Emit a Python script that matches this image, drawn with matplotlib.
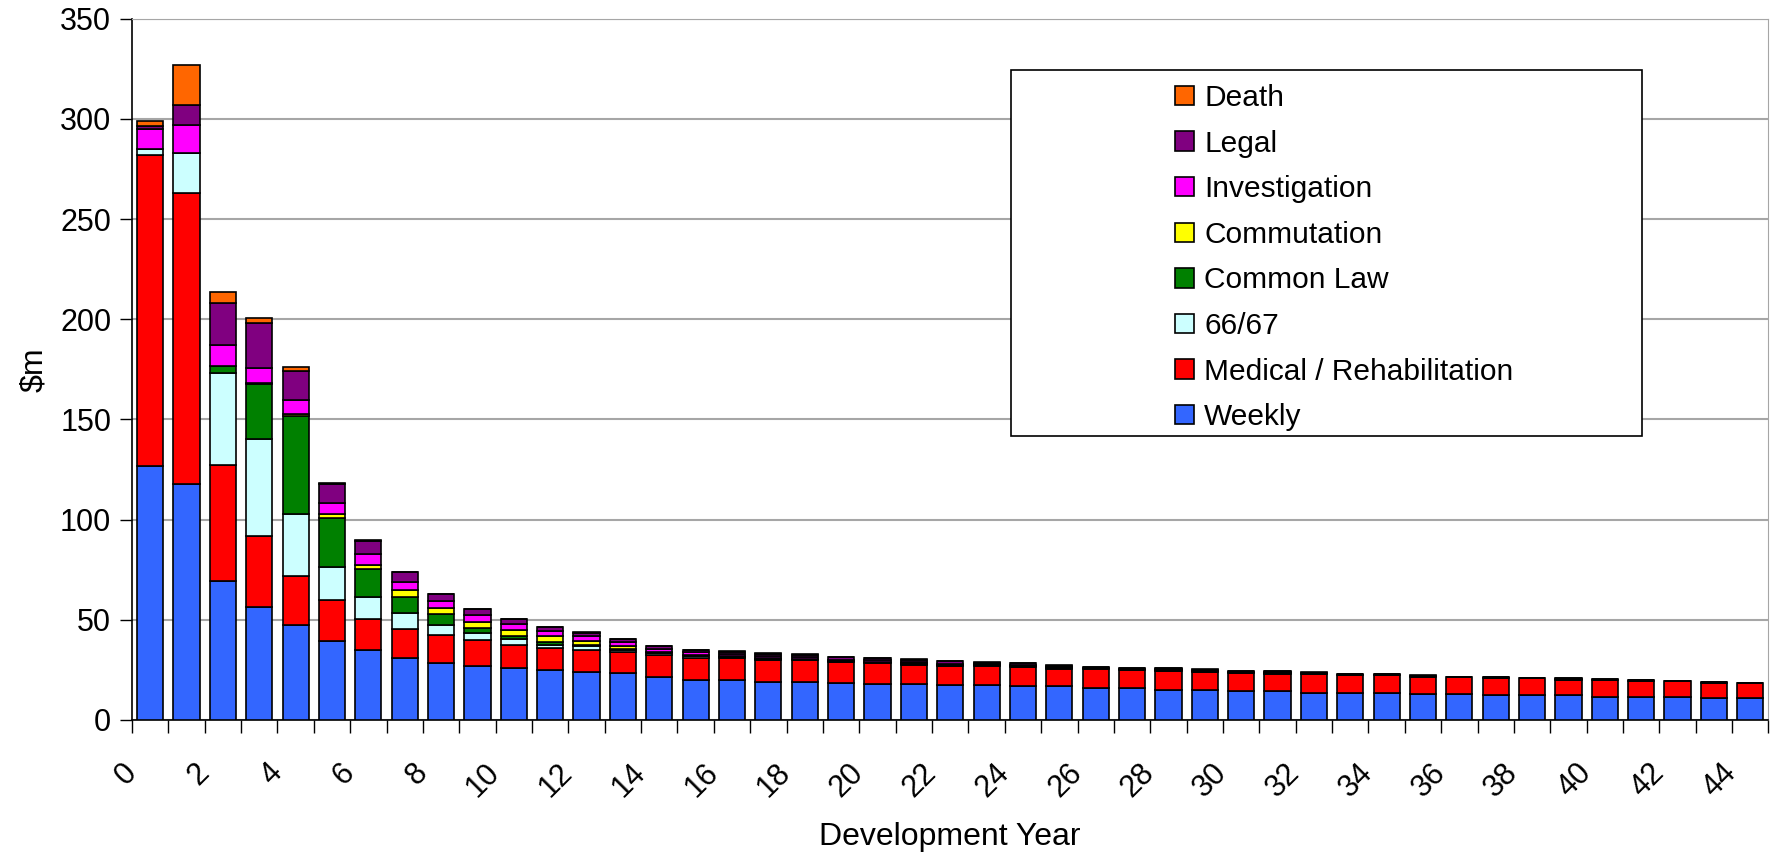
import numpy as np
import matplotlib
matplotlib.use('Agg')
import matplotlib.pyplot as plt
import matplotlib.transforms as mtransforms
from matplotlib.patches import Rectangle

plt.rcParams['font.family'] = ['Liberation Sans', 'DejaVu Sans']

years = list(range(45))

weekly = [127, 118, 69.3, 56.3, 47.3, 39.6, 34.8, 31, 28.3, 26.8,
          25.7, 25, 24, 23.3, 21.3, 20, 20, 19, 19.1, 18.3,
          17.8, 17.8, 17.2, 17.2, 16.7, 16.7, 15.8, 15.8, 15, 15,
          14.2, 14.2, 13.5, 13.5, 13.5, 12.8, 12.8, 12.2, 12.2, 12.2,
          11.5, 11.5, 11.5, 10.7, 10.7]
medical = [155.2, 144.9, 57.8, 35.4, 24.6, 20.2, 15.8, 14.5, 14, 12.9,
           11.8, 10.8, 10.7, 10.4, 11, 10.8, 10.8, 11, 10.6, 10.5,
           10.5, 9.7, 9.6, 9.8, 9.6, 8.8, 9.7, 9.2, 9.2, 8.8,
           9.1, 8.8, 9.5, 8.7, 8.7, 8.7, 8.7, 8.5, 8.5, 7.8,
           8.5, 7.7, 7.7, 7.6, 7.6]
s6667 = [3, 20, 46.2, 48.4, 31, 16.5, 10.6, 7.7, 5, 3.5,
         2.8, 1.4, 2.3, 1.3, 1, 1, 0.5, 0.4, 0.4, 0.3,
         0.3, 0.4, 0.3, 0.2, 0.2, 0.2, 0.2, 0.1, 0.2, 0.2,
         0.1, 0.2, 0.1, 0.1, 0.1, 0.1, 0, 0.1, 0, 0.1,
         0, 0.1, 0, 0.1, 0.1]
common_law = [0, 0, 3.3, 27.5, 49, 24.4, 14.3, 8.3, 5.7, 2.6,
              1.4, 1.5, 0.3, 0.5, 0.3, 0.2, 0.3, 0.2, 0.2, 0.1,
              0.1, 0.2, 0.2, 0.1, 0.1, 0.1, 0.1, 0.1, 0.2, 0.1,
              0.1, 0.1, 0.1, 0.1, 0.1, 0.1, 0, 0.1, 0, 0.1,
              0, 0.1, 0, 0.1, 0]
commutation = [0, 0, 0, 0.5, 0.8, 2.2, 1.9, 3.1, 2.8, 2.9,
               3.3, 3, 2, 1.5, 0.3, 0.2, 0.4, 0.3, 0.2, 0.1,
               0.1, 0.3, 0.2, 0.1, 0.1, 0.1, 0.1, 0.1, 0.2, 0.1,
               0.1, 0.2, 0.1, 0.1, 0.1, 0.1, 0, 0.1, 0, 0.1,
               0, 0.1, 0, 0.1, 0]
investigation = [10, 14, 10.8, 7.5, 6.9, 5.5, 5.3, 4, 3.5, 3.6,
                 3, 2.8, 2.7, 1.7, 1.6, 1.6, 0.9, 1.1, 0.9, 0.6,
                 0.9, 0.6, 0.6, 0.7, 0.5, 0.5, 0.2, 0.2, 0.5, 0.4,
                 0.3, 0.3, 0.2, 0.2, 0.2, 0.2, 0.1, 0.2, 0.1, 0.2,
                 0.1, 0.2, 0.1, 0.2, 0.1]
legal = [1.5, 10, 20.5, 22.6, 14.7, 9.5, 6.4, 5, 3.7, 3,
         2.3, 1.7, 1.6, 1.6, 1.4, 1.1, 1.2, 1.1, 1.2, 1.3,
         1.0, 1.1, 1.1, 0.5, 1.0, 0.7, 0.3, 0.2, 0.5, 0.5,
         0.3, 0.4, 0.1, 0.2, 0.2, 0.1, 0.05, 0.2, 0.1, 0.2,
         0.1, 0.2, 0.1, 0.2, 0.1]
death = [2.5, 20, 5.7, 2.2, 1.8, 0.4, 0.6, 0.2, 0.1, 0.1,
         0.1, 0.1, 0.1, 0.1, 0.1, 0.1, 0.1, 0.1, 0.1, 0.1,
         0.1, 0.1, 0.1, 0.1, 0.1, 0.1, 0.1, 0.1, 0.1, 0.1,
         0.1, 0.1, 0.1, 0.1, 0.1, 0.1, 0, 0.1, 0, 0.1,
         0, 0.1, 0, 0.1, 0]

series = [
    ("Weekly", weekly, "#3366FF"),
    ("Medical / Rehabilitation", medical, "#FF0000"),
    ("66/67", s6667, "#CCFFFF"),
    ("Common Law", common_law, "#008000"),
    ("Commutation", commutation, "#FFFF00"),
    ("Investigation", investigation, "#FF00FF"),
    ("Legal", legal, "#800080"),
    ("Death", death, "#FF6600"),
]

fig = plt.figure(figsize=(17.72, 8.56), dpi=100)
ax = fig.add_axes([0.0745, 0.159, 0.9235, 0.819])

x = np.arange(len(years))
bottom = np.zeros(len(years))
handles = []
for name, vals, col in series:
    v = np.array(vals, dtype=float)
    b = ax.bar(x, v, 0.72, bottom=bottom, color=col, edgecolor='black',
               linewidth=1.2, label=name, zorder=3)
    handles.append(b)
    bottom += v

ax.set_xlim(-0.5, 44.5)
ax.set_ylim(0, 350)
ax.set_yticks(np.arange(0, 351, 50))
ax.yaxis.grid(True, color='#A6A6A6', linewidth=1.5, zorder=0)
ax.set_axisbelow(True)

ax.set_xticks(x[::2])
ax.set_xticklabels([str(y) for y in years[::2]], rotation=45, ha='right',
                   rotation_mode='anchor')
ax.set_xticks(np.arange(-0.5, 45, 1), minor=True)
ax.tick_params(axis='x', which='major', length=0, pad=27, labelsize=22)
ax.tick_params(axis='x', which='minor', length=9, width=1, direction='out')
ax.tick_params(axis='y', length=9, width=1, direction='out', labelsize=22, pad=6)

# nudge rotated labels left like the original
shift = mtransforms.ScaledTranslation(-0.29, 0, fig.dpi_scale_trans)
for lab in ax.get_xticklabels():
    lab.set_transform(lab.get_transform() + shift)

for s in ['top', 'right']:
    ax.spines[s].set_color('#A6A6A6')
for s in ['left', 'bottom']:
    ax.spines[s].set_color('black')
    ax.spines[s].set_linewidth(1.2)

ax.set_xlabel('Development Year', fontsize=23, labelpad=14)
ax.set_ylabel('$m', fontsize=23, labelpad=8)

# legend box (Excel style, with wide left padding)
fig.patches.append(Rectangle((1011 / 1772, 1 - 436 / 856), 631 / 1772, 366 / 856,
                             transform=fig.transFigure, facecolor='white',
                             edgecolor='black', linewidth=1.2, zorder=5))
leg = fig.legend(handles[::-1], [s[0] for s in series][::-1],
                 loc='upper left', bbox_to_anchor=(1160 / 1772, 1 - 69 / 856),
                 frameon=False, fontsize=21.5, handlelength=0.63, handleheight=0.62,
                 handletextpad=0.35, labelspacing=0.59, borderpad=0)
leg.set_zorder(6)

fig.savefig('out.png', dpi=100)
